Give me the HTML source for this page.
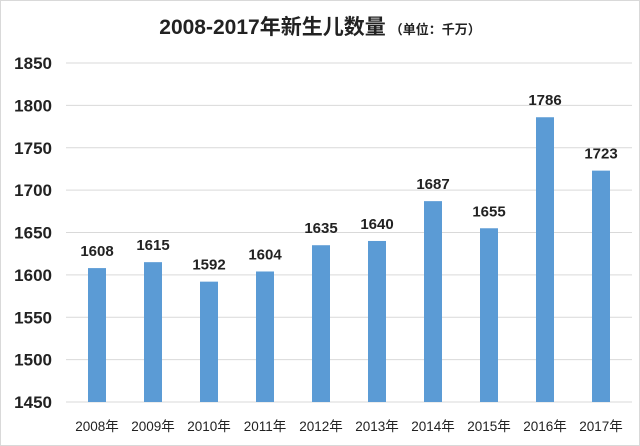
<!DOCTYPE html>
<html><head><meta charset="utf-8"><style>
body{margin:0;background:#fff;}
svg{display:block;font-family:"Liberation Sans","Noto Sans CJK SC",sans-serif;}
</style></head><body>
<svg width="640" height="446">
<rect x="0.5" y="0.5" width="639" height="445" fill="#fff" stroke="#d9d9d9"/>
<text x="320" y="34" text-anchor="middle" font-weight="bold"><tspan font-size="21" fill="#222">2008-2017年新生儿数量</tspan><tspan font-size="13" fill="#222" dx="4">（单位：千万）</tspan></text>
<g id="grid"></g><g id="bars"></g>
</svg>
<script>
const categories=["2008年","2009年","2010年","2011年","2012年","2013年","2014年","2015年","2016年","2017年"];
const values=[1608,1615,1592,1604,1635,1640,1687,1655,1786,1723];
const yTicks=[1450,1500,1550,1600,1650,1700,1750,1800,1850];
const ns="http://www.w3.org/2000/svg";
const y0=402,y1=63,vMin=1450,vMax=1850;
const y=v=>y0-(v-vMin)/(vMax-vMin)*(y0-y1);
const x=i=>97+i*56;
const svg=document.querySelector('svg');
function mk(t,a,txt){const e=document.createElementNS(ns,t);for(const k in a)e.setAttribute(k,a[k]);if(txt!=null)e.textContent=txt;svg.appendChild(e);return e;}
yTicks.forEach(t=>{
 const l=mk('line',{x1:66,x2:632,y1:y(t),y2:y(t),stroke:"#d9d9d9","stroke-width":1});
 
 
 const tx=mk('text',{x:52,y:y(t)+6,"text-anchor":"end","font-size":17,"font-weight":"bold",fill:"#222"},t);
 
 
});
values.forEach((v,i)=>{
 const r=mk('rect',{x:x(i)-9,y:y(v),width:18,height:y0-y(v),fill:"#5b9bd5"});
 
 
 const t=mk('text',{x:x(i),y:y(v)-12,"text-anchor":"middle","font-size":15,"font-weight":"bold",fill:"#222"},v);
 
 
 const c=mk('text',{x:x(i),y:431,"text-anchor":"middle","font-size":13.5,fill:"#222"},categories[i]);
 
 
});
</script>
</body></html>
